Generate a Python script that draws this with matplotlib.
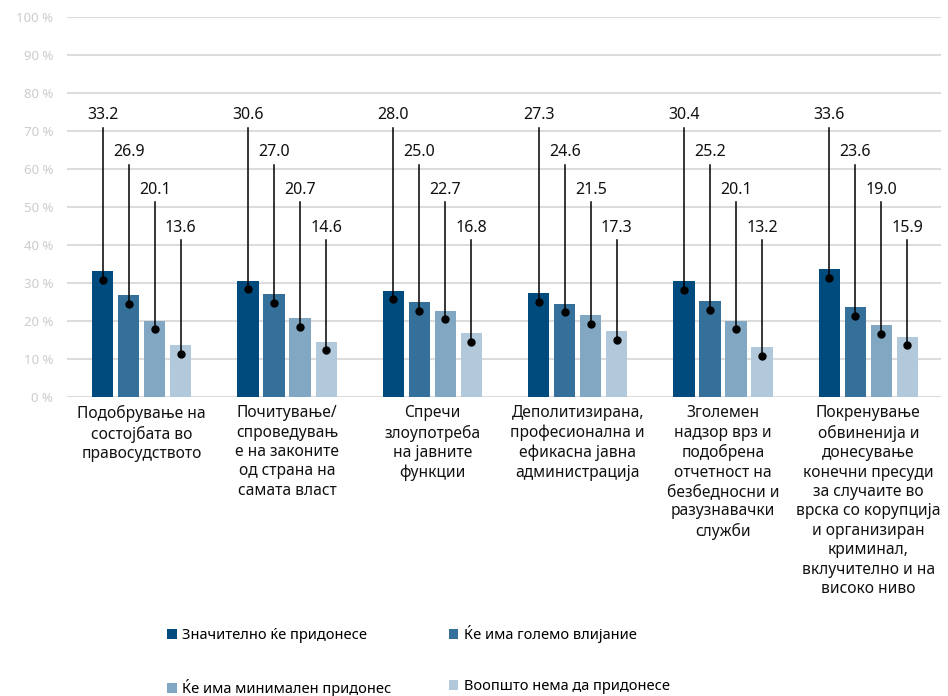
import numpy as np
import matplotlib
matplotlib.use("Agg")
from matplotlib import pyplot as plt

plt.rcParams['font.family'] = ['Noto Sans', 'DejaVu Sans']

# categorias (eje x)
categorias = [
    "Подобрување на\nсостојбата во\nправосудството",
    "Почитување/\nспроведувањ\nе на законите\nод страна на\nсамата власт",
    "Спречи\nзлоупотреба\nна јавните\nфункции",
    "Деполитизирана,\nпрофесионална и\nефикасна јавна\nадминистрација",
    "Зголемен\nнадзор врз и\nподобрена\nотчетност на\nбезбедносни и\nразузнавачки\nслужби",
    "Покренување\nобвиненија и\nдонесување\nконечни пресуди\nза случаите во\nврска со корупција\nи организиран\nкриминал,\nвклучително и на\nвисоко ниво",
]

# series (%)
znacitelno = [33.2, 30.6, 28.0, 27.3, 30.4, 33.6]
golemo     = [26.9, 27.0, 25.0, 24.6, 25.2, 23.6]
minimalen  = [20.1, 20.7, 22.7, 21.5, 20.1, 19.0]
voopsto    = [13.6, 14.6, 16.8, 17.3, 13.2, 15.9]

nombres = ["Значително ќе придонесе", "Ќе има големо влијание",
           "Ќе има минимален придонес", "Воопшто нема да придонесе"]
colores = ["#004B7E", "#34709A", "#81A7C3", "#B2C9DB"]
series = [znacitelno, golemo, minimalen, voopsto]

fig = plt.figure(figsize=(9.48, 6.96), dpi=100)
ax = fig.add_axes([67/948, 1 - 397/696, (941-67)/948, 380/696])

x = np.arange(len(categorias))
paso = 0.179      # separacion entre barras
ancho = 0.145     # ancho de barra
niveles = [70.8, 61.0, 51.2, 41.2]   # altura donde termina la linea guia

barras = []
for j, (vals, nom, col) in enumerate(zip(series, nombres, colores)):
    xs = x + (j - 1.5) * paso
    b = ax.bar(xs, vals, width=ancho, color=col, label=nom, zorder=2)
    barras.append(b)
    for xi, v in zip(xs, vals):
        ax.plot([xi, xi], [v - 2.3, niveles[j]], color="black", lw=1.1, zorder=3)
        ax.plot(xi, v - 2.3, "o", color="black", ms=5, zorder=4)
        ax.text(xi, niveles[j] + 3.4, "%.1f" % v, ha="center", va="center",
                fontsize=11.5, color="#111111", zorder=5)

ax.set_ylim(0, 100)
ax.set_xlim(-0.514, 5.5)
ax.set_yticks(np.arange(0, 101, 10))
ax.set_yticklabels(["%d %%" % t for t in range(0, 101, 10)], color="#cccccc", fontsize=9.5)
ax.yaxis.grid(True, color="#dcdcdc", lw=1.5, zorder=0)
ax.set_axisbelow(True)
ax.set_xticks(x)
ax.set_xticklabels(categorias, fontsize=11.2, color="#111111", linespacing=1.28)
ax.tick_params(axis="both", length=0)
ax.tick_params(axis="y", pad=10)
ax.tick_params(axis="x", pad=6)
for s in ax.spines.values():
    s.set_visible(False)

# leyenda en dos filas
orden = [0, 2, 1, 3]
fig.legend([barras[i] for i in orden], [nombres[i] for i in orden],
           ncol=2, loc="upper left", bbox_to_anchor=(154/948, 1 - 612/696),
           frameon=False, fontsize=10.5, handlelength=0.65, handleheight=0.65,
           handletextpad=0.4, columnspacing=3.9, labelspacing=2.45)

plt.savefig("out.png")
